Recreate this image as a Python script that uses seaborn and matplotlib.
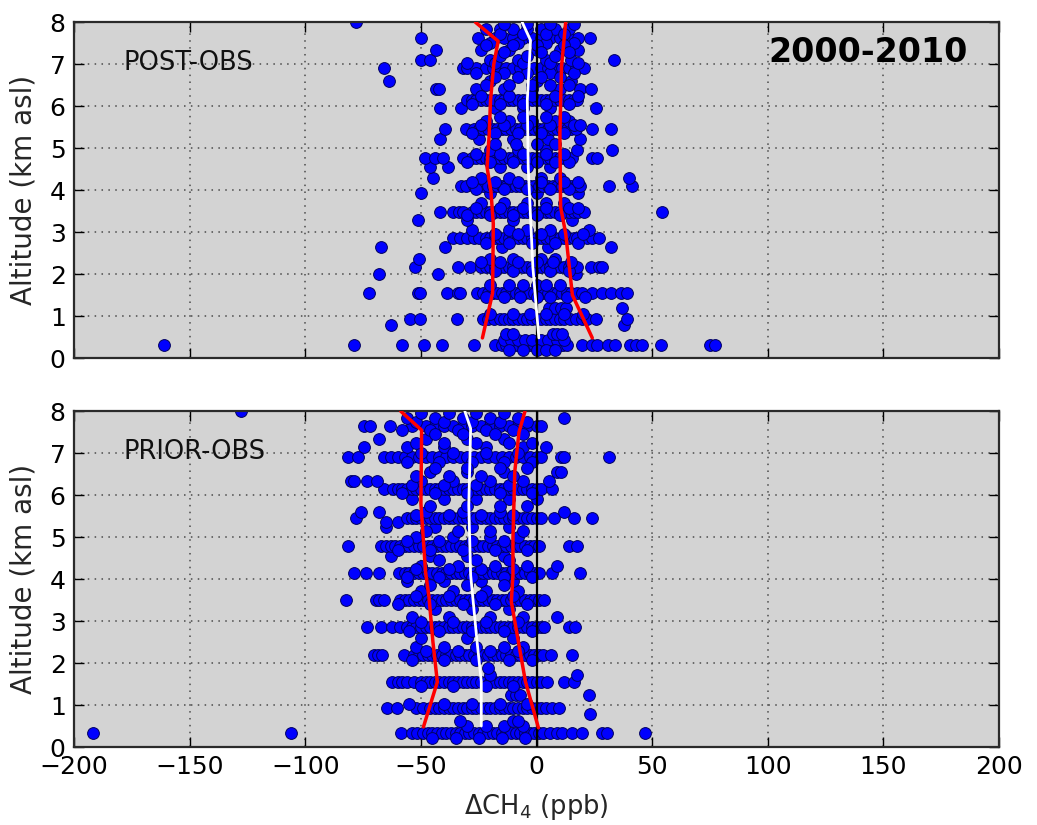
import numpy as np
import pandas as pd
import matplotlib
matplotlib.use("Agg")
import matplotlib.pyplot as plt
import seaborn as sns

# ---------------- data ----------------
xticks = [-200, -150, -100, -50, 0, 50, 100, 150, 200]
yticks = [0, 1, 2, 3, 4, 5, 6, 7, 8]
period_label = "2000-2010"
panel_labels = ["POST-OBS", "PRIOR-OBS"]

post_alts = [0.30, 0.42, 0.58, 0.78, 0.93, 1.20, 1.55, 1.75, 2.00, 2.17, 2.37, 2.65, 2.85,
             3.05, 3.28, 3.48, 3.70, 3.93, 4.10, 4.30, 4.55, 4.77, 4.95, 5.23, 5.45, 5.65,
             5.95, 6.14, 6.40, 6.60, 6.92, 7.10, 7.35, 7.62, 7.85, 8.00]
post_x = [
    [-161, -79, -58, -48.5, -41, -27, -18, -15, -13, -11, -9.5, -8, -6, -4, -3, -1, 0.5, 2, 3.5, 5, 7, 8.5, 10, 11.5, 13, 19.7, 24, 26, 31, 34, 40.5, 43, 45.7, 54, 75, 77],
    [-14, -11, -8, -5, -2, 2, 5, 9, 12],
    [-13, -10, 7, 9, 11],
    [-63, 37.8],
    [-54.6, -50.3, -34.5, -23, -21, -18.5, -16, -14, -12, -10, -8, -6, -4, -2, 0, 2, 4, 6, 8, 10, 12, 14.5, 17, 19.5, 22, 25.5, 39],
    [5.4, 8, 10.5, 12.6, 37],
    [-72.4, -51.2, -50.5, -38.9, -33.9, -33, -25.8, -23, -21, -19, -17, -15, -13, -11, -9, -7, -5, -3, -1, 1, 3, 5, 7, 9, 11, 13, 15, 17.5, 19.7, 24, 28.5, 32, 36.4, 39.2],
    [-20, -12, -6, 0, 4, 10],
    [-68, -42.5, 17],
    [-52.6, -33.8, -28.8, -24, -22, -20, -18, -16, -14, -12, -10, -8, -6, -4, -2, 0, 2, 4, 6, 8, 10, 12, 14, 16, 17.6, 23.4, 27.1, 28.5],
    [-51, -20, -10, 2, 8],
    [-67.3, -39.7, -15, 5, 32],
    [-36, -33, -30, -27, -25, -22, -20, -18, -16, -14, -12, -10, -8, -6, -4, -2, 0, 2, 4, 6, 8, 10, 12, 14, 16, 17.6, 22, 24.1, 27.1],
    [-28, -12, -4, 6, 22.6],
    [-51.2, -30, -10, 15.5],
    [-41.9, -36, -33.5, -32, -28, -26, -24, -22, -20, -18, -16, -14, -12, -10, -8, -6, -4, -2, 0, 2, 4, 6, 8, 10, 12, 14, 16, 18, 20.5, 54.3],
    [-24, -14, -4, 4, 12],
    [-49.8, -20, 0, 18],
    [-32.5, -30.5, -27, -25, -23, -21, -19, -17, -15, -13, -11, -9, -7, -5, -3, -1, 1, 3, 5, 7, 9, 11, 13, 15, 17, 19, 31.3, 41.3],
    [-44.7, -24, -12, 2, 10, 40],
    [-46.2, -38.3, -16, -4, 6],
    [-48.4, -44, -40.4, -32, -28, -26, -24, -22, -20, -18, -16, -14, -12, -10, -8, -6, -4, -2, 0, 2, 4, 6, 8, 10, 12, 14, 15.5, 24.1, 26.2],
    [-20, -8, 4, 17.6, 32.7],
    [-41.9, -25, -10, 5, 19],
    [-39.7, -30.3, -27, -25, -23, -21, -19, -17, -15, -13, -11, -9, -7, -5, -3, -1, 1, 3, 5, 7, 9, 11, 13, 15, 17, 24.1, 32],
    [-22, -12, -2, 8, 14],
    [-41.9, -32.5, -18, -6, 6, 25.5],
    [-30, -28, -26, -24, -22, -20, -18, -16, -14, -12, -10, -8, -6, -4, -2, 0, 2, 4, 6, 8, 10, 12, 14, 16, 17.6],
    [-43.3, -42, -26, -14, -2, 10, 19, 23.4],
    [-63.9, -20, 0, 15],
    [-66, -32, -30, -26, -22, -19, -16, -13, -10, -7, -4, -1, 2, 5, 8, 11, 14, 17, 20.5],
    [-50, -46, -20, -8, 4, 15, 33.5],
    [-43.3, -24, -12, 0, 10, 18],
    [-49.8, -25.2, -18, -14, -10, -6, -2, 2, 6, 10, 14, 18, 23],
    [-22, -16, -10, -4, 2, 8, 14],
    [-78.2],
]
post_extra_alts = [0.20, 1.05, 1.45, 2.08, 2.28, 2.75, 2.95, 3.40, 3.58, 4.02, 4.20, 4.67,
                   4.87, 5.37, 5.55, 6.05, 6.25, 6.80, 7.02, 7.50, 7.72, 7.95,
                   5.10, 5.75, 6.50, 6.70, 7.20, 7.45, 7.28]
post_extra_x = [
    [-12, -6, 0, 4, 8],
    [-20, -10, -3, 4, 12, 20],
    [-22, -14, -7, 0, 6, 13, 21],
    [-18, -10, -2, 6, 14],
    [-24, -16, -8, 0, 7, 15],
    [-22, -12, -2, 8, 18],
    [-18, -8, 2, 12, 20],
    [-30, -20, -10, 0, 10],
    [-26, -16, -6, 4, 14, 18],
    [-26, -14, -4, 6, 14],
    [-28, -18, -8, 2, 12, 18],
    [-30, -20, -10, 0, 8, 14],
    [-26, -16, -6, 4, 12],
    [-28, -18, -8, 2, 12],
    [-24, -14, -4, 6, 16, 19],
    [-28, -16, -6, 4, 14],
    [-24, -12, -2, 8, 18],
    [-26, -14, -4, 6, 16],
    [-30, -18, -6, 6, 18],
    [-20, -8, 4, 16],
    [-16, -6, 4, 12],
    [-14, -4, 6, 16],
    [-18, -9, 0, 8],
    [-16, -6, 4, 12],
    [-22, -12, -2, 6, 14],
    [-18, -8, 2, 10],
    [-16, -4, 8],
    [-22, -10, 0, 12],
    [-14, 2, 14],
]

prior_alts = [0.33, 0.50, 0.62, 0.78, 0.92, 1.25, 1.56, 1.72, 1.88, 2.20, 2.38, 2.60, 2.87,
              3.10, 3.30, 3.50, 3.72, 3.95, 4.14, 4.32, 4.55, 4.80, 5.00, 5.25, 5.35, 5.45,
              5.60, 5.90, 6.14, 6.35, 6.55, 6.90, 7.15, 7.35, 7.65, 7.85, 8.00]
prior_x = [
    [-192, -106, -58.8, -53.8, -51.6, -49, -47, -45, -43, -41, -39, -37, -35, -33, -31, -29, -27, -25, -23, -21, -19, -17, -15, -13, -11, -9, -7, -5, -3, -1, 1, 3, 6, 9, 11, 15.4, 19.7, 28.3, 30.5, 46.7],
    [-30, -22, -14, -6],
    [-33, -10, -8],
    [23.2],
    [-64.6, -60.3, -52, -49, -46, -44, -42, -40, -38, -36, -34, -32, -30, -28, -26, -24, -22, -20, -18, -16, -14, -12, -10, -8, -6, -4, -2, 0, 2, 4, 6.5, 9.6],
    [-11, -9, -7, 22.6],
    [-62.3, -60, -58, -56, -53, -50, -48, -46, -44, -42, -40, -38, -36, -34, -32, -30, -28, -26, -24, -22, -20, -18, -16, -14, -12, -10, -8, -6, -4, -2, 0, 2, 4.6, 11.8, 16.1],
    [-20, 17.6],
    [-21],
    [-70.2, -68.5, -66.9, -57.4, -53, -51, -49, -47, -45, -43, -41, -39, -37, -35, -33, -31, -29, -27, -25, -23, -21, -19, -17, -15, -13, -11, -9, -7, -5, -3, -1, 1, 3, 6.1, 15.5],
    [-52, -40, -26, -14, -6],
    [-50, -30, -10],
    [-73.1, -67.4, -62.3, -59, -56, -54, -52, -50, -48, -46, -44, -42, -40, -38, -36, -34, -32, -30, -28, -26, -24, -22, -20, -18, -16, -14, -12, -10, -8, -6, -4, -2, 0, 2, 3.2, 14, 16.8],
    [-54, -38, -20, -6, 9],
    [-44, -28, -12],
    [-82.4, -69.5, -68, -66, -59, -57, -55, -53, -51, -49, -47, -45, -43, -41, -39, -37, -35, -33, -31, -29, -27, -25, -23, -21, -19, -17, -15, -13, -11, -9, -7, -5, -3, -1, 1, 3.2],
    [-50, -36, -22, -8],
    [-56, -40, -24, -10],
    [-78.8, -73.8, -68, -59.4, -57, -55, -53, -51, -49, -47, -45, -43, -41, -39, -37, -35, -33, -31, -29, -27, -25, -23, -21, -19, -17, -15, -13, -11, -9, -7, -5, -3, -1, 1, 6.8, 19],
    [-50, -34, -18, -4, 9],
    [-63, -46, -30, -14],
    [-81.7, -67.4, -65, -63, -61, -59, -57, -55, -53, -51, -49, -47, -45, -43, -41, -39, -37, -35, -33, -31, -29, -27, -25, -23, -21, -19, -17, -15, -13, -11, -9, -7, -5, -3, -1, 1, 14, 17.6],
    [-52, -36, -20, -8],
    [-65, -44, -28, -12],
    [-65, -60],
    [-78.1, -56, -54, -52, -50, -48, -46, -44, -42, -40, -38, -36, -34, -32, -30, -28, -26, -24, -22, -20, -18, -16, -14, -12, -10, -8, -6, -4, -2, 0, 2, 7.6, 16.1, 24.1],
    [-76, -68, -48, -32, -16, 11.8],
    [-54, -40, -26, -12, 0],
    [-66, -62, -60, -58, -56, -54, -52, -50, -48, -46, -44, -42, -40, -38, -36, -34, -32, -30, -28, -26, -24, -22, -20, -18, -16, -14, -12, -10, -8, -6, -4, -2, 0, 2, 6.8],
    [-80.4, -79, -73.1, -68.8, -50, -36, -20, -6, 5.4],
    [-46, -30, -14, 9, 10.5],
    [-81.7, -77.4, -65.8, -63, -60, -57, -54, -51, -48, -45, -42, -39, -36, -33, -30, -27, -24, -21, -18, -15, -12, -9, -6, -3, 0, 2, 10.5, 11.8, 31.2],
    [-74.6, -56, -40, -22, -6, 4],
    [-68, -48, -30, -14],
    [-74.6, -72, -63.2, -54, -48, -44, -40, -36, -32, -28, -24, -20, -16, -12, -8, -4, 0, 2],
    [-56, -44, -32, -20, -8, 11.8],
    [-128],
]
prior_extra_alts = [0.22, 1.02, 1.45, 2.08, 2.30, 2.77, 2.97, 3.40, 3.60, 4.05, 4.24, 4.70,
                    4.90, 5.52, 6.05, 6.24, 6.80, 7.00, 7.55, 7.75, 7.95,
                    5.15, 5.75, 6.45, 6.65, 7.25, 7.45, 3.85, 4.45]
prior_extra_x = [
    [-45, -35, -25, -15, -5],
    [-55, -40, -28, -16, -4],
    [-50, -36, -22, -10],
    [-54, -40, -26, -12, -2],
    [-48, -34, -20, -8],
    [-55, -42, -28, -14, -2],
    [-50, -36, -22, -8],
    [-60, -46, -32, -18, -4],
    [-52, -38, -24, -10],
    [-56, -42, -28, -14, -2],
    [-52, -38, -24, -10],
    [-60, -46, -32, -18, -4],
    [-56, -42, -28, -14],
    [-52, -38, -24, -10],
    [-58, -44, -30, -16, -2],
    [-54, -40, -26, -12],
    [-56, -42, -28, -14, -2],
    [-50, -36, -22, -8],
    [-58, -46, -34, -22, -10],
    [-52, -40, -28, -16, -4],
    [-50, -38, -26, -14],
    [-48, -34, -20, -6],
    [-46, -30, -16, -4],
    [-52, -38, -24, -10],
    [-44, -30, -16, -4],
    [-52, -40, -26, -12, -2],
    [-44, -32, -18, -6],
    [-46, -30, -14],
    [-42, -26, -12],
]

# percentile / median profiles
post_lo_x = [-23.4, -19.0, -18.7, -19.7, -21.4, -20.5, -19.9, -18.5, -16.6, -26.4]
post_lo_y = [0.48, 1.55, 3.2, 3.96, 4.55, 5.3, 6.14, 7.0, 7.55, 8.0]
post_hi_x = [24.1, 15.5, 12.6, 10.4, 10.1, 10.8, 12.6]
post_hi_y = [0.48, 1.5, 2.97, 3.6, 5.35, 6.94, 8.0]
post_med_x = [1.0, -1.6, -3.6, -4.0, -2.6, -6.2]
post_med_y = [0.48, 2.17, 4.55, 6.14, 7.57, 8.0]

prior_lo_x = [-48.9, -42.9, -44.8, -46.5, -48.0, -50.0, -49.7, -58.7]
prior_lo_y = [0.48, 1.55, 2.5, 3.57, 4.17, 5.8, 7.55, 8.0]
prior_hi_x = [0.8, -4.8, -10.9, -10.2, -10.2, -9.4, -7.6, -5.0]
prior_hi_y = [0.46, 1.56, 3.46, 4.1, 4.98, 6.57, 7.5, 8.0]
prior_med_x = [-23.9, -23.9, -25.7, -28.5, -29.3, -28.5, -31.0]
prior_med_y = [0.5, 1.56, 2.5, 4.1, 5.76, 7.59, 8.0]

zero_x = [0, 0]
zero_y = [0, 8]

# ---------------- plotting ----------------
sns.set_style("ticks")
plt.rcParams['font.family'] = ['DejaVu Sans']
plt.rcParams['axes.unicode_minus'] = True


def rows_to_df(alts, xs, alts2, xs2):
    recs = []
    for a, row in list(zip(alts, xs)) + list(zip(alts2, xs2)):
        for v in row:
            recs.append((v, a))
    return pd.DataFrame(recs, columns=["dch4", "alt"])


fig = plt.figure(figsize=(10.37, 8.25), dpi=100)
ax1 = fig.add_axes([0.0714, 0.566, 0.892, 0.407])
ax2 = fig.add_axes([0.0714, 0.0945, 0.892, 0.407])

panels = [
    (ax1, rows_to_df(post_alts, post_x, post_extra_alts, post_extra_x),
     (post_lo_x, post_lo_y), (post_hi_x, post_hi_y), (post_med_x, post_med_y), panel_labels[0]),
    (ax2, rows_to_df(prior_alts, prior_x, prior_extra_alts, prior_extra_x),
     (prior_lo_x, prior_lo_y), (prior_hi_x, prior_hi_y), (prior_med_x, prior_med_y), panel_labels[1]),
]

for ax, df, lo, hi, med, lab in panels:
    ax.set_facecolor('#d3d3d3')
    sns.scatterplot(data=df, x="dch4", y="alt", ax=ax, color='#0000ff', edgecolor='#000060',
                    linewidth=0.7, s=72, zorder=2, legend=False)
    sns.lineplot(x=zero_x, y=zero_y, ax=ax, color='black', linewidth=1.6, sort=False,
                 estimator=None, orient='y', zorder=3)
    for (lx, ly), col, lw in [(lo, 'red', 2.5), (hi, 'red', 2.5), (med, 'white', 2.0)]:
        sns.lineplot(x=lx, y=ly, ax=ax, color=col, linewidth=lw, sort=False,
                     estimator=None, orient='y', zorder=4)
    ax.set_xlim(-200, 200)
    ax.set_ylim(0, 8)
    ax.set_xticks(xticks)
    ax.set_yticks(yticks)
    ax.set_axisbelow(True)
    ax.grid(True, color='#4a4a4a', linestyle=(0, (1, 3.5)), linewidth=1.1)
    ax.tick_params(direction='in', length=7, width=1.0, top=True, right=True,
                   labelsize=18, colors='black', pad=6)
    for sp in ax.spines.values():
        sp.set_linewidth(1.6)
        sp.set_color('#2a2a2a')
    ax.set_ylabel("Altitude (km asl)", fontsize=20)
    ax.yaxis.set_label_coords(-0.04, 0.5)
    ax.text(0.054, 0.858, lab, transform=ax.transAxes, fontsize=18.5,
            ha='left', va='baseline', color='#111111')

ax1.set_xlabel("")
ax1.tick_params(labelbottom=False)
ax1.text(0.9665, 0.882, period_label, transform=ax1.transAxes, fontsize=24,
         fontweight='bold', ha='right', va='baseline', color='black')
ax2.set_xlabel(r"$\Delta$CH$_4$ (ppb)", fontsize=18.5)
ax2.xaxis.set_label_coords(0.5, -0.135)

fig.savefig("out.png", dpi=100)
